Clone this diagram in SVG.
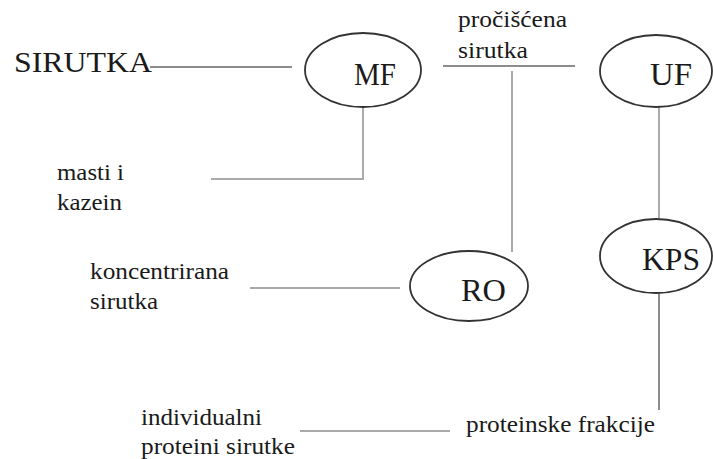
<svg xmlns="http://www.w3.org/2000/svg" width="713" height="459" viewBox="0 0 713 459">
<style>
text{font-family:'Liberation Serif',Tinos,'Times New Roman','DejaVu Serif',serif;fill:#1a1a1a}
.lab{font-size:24px}
.nd{font-size:31px}
ellipse{fill:#fff;stroke:#333;stroke-width:1.8}
.c{stroke:#aaa;stroke-width:2;fill:none}
.d{stroke:#666;stroke-width:1.5;fill:none}
</style>
<rect width="713" height="459" fill="#fff"/>
<g id="connectors">
<line class="d" x1="150" y1="67" x2="292" y2="67"/>
<polyline class="c" points="363,107 363,179 211,179"/>
<line class="d" x1="443" y1="66" x2="575" y2="66"/>
<line class="c" x1="512" y1="71" x2="512" y2="252"/>
<line class="c" x1="659" y1="107" x2="659" y2="218"/>
<line class="d" x1="659" y1="293" x2="659" y2="410"/>
<line class="c" x1="250" y1="288" x2="400" y2="288"/>
<line class="c" x1="300" y1="431" x2="450" y2="431"/>
</g>
<g id="sirutka"><text x="14" y="72" font-size="29" textLength="138" lengthAdjust="spacingAndGlyphs">SIRUTKA</text></g>
<g id="MF"><ellipse cx="363" cy="70" rx="58" ry="37"/><text class="nd" x="354" y="85" textLength="42" lengthAdjust="spacingAndGlyphs">MF</text></g>
<g id="UF"><ellipse cx="656" cy="71" rx="56" ry="36"/><text class="nd" x="650" y="85" textLength="42" lengthAdjust="spacingAndGlyphs">UF</text></g>
<g id="KPS"><ellipse cx="656" cy="256" rx="56" ry="37"/><text class="nd" x="642" y="270" textLength="58" lengthAdjust="spacingAndGlyphs">KPS</text></g>
<g id="RO"><ellipse cx="469" cy="286" rx="59" ry="35"/><text class="nd" x="461" y="301" textLength="45" lengthAdjust="spacingAndGlyphs">RO</text></g>
<g id="masti"><text class="lab" x="57" y="180" textLength="67" lengthAdjust="spacingAndGlyphs">masti i</text><text class="lab" x="57" y="210" textLength="65" lengthAdjust="spacingAndGlyphs">kazein</text></g>
<g id="prociscena"><text class="lab" x="458" y="27" textLength="109" lengthAdjust="spacingAndGlyphs">pročišćena</text><text class="lab" x="458" y="58" textLength="70" lengthAdjust="spacingAndGlyphs">sirutka</text></g>
<g id="koncentrirana"><text class="lab" x="90" y="279" textLength="139" lengthAdjust="spacingAndGlyphs">koncentrirana</text><text class="lab" x="90" y="309" textLength="68" lengthAdjust="spacingAndGlyphs">sirutka</text></g>
<g id="individualni"><text class="lab" x="141" y="425" textLength="121" lengthAdjust="spacingAndGlyphs">individualni</text><text class="lab" x="141" y="454" textLength="154" lengthAdjust="spacingAndGlyphs">proteini sirutke</text></g>
<g id="frakcije"><text class="lab" x="466" y="432" textLength="189" lengthAdjust="spacingAndGlyphs">proteinske frakcije</text></g>
</svg>
